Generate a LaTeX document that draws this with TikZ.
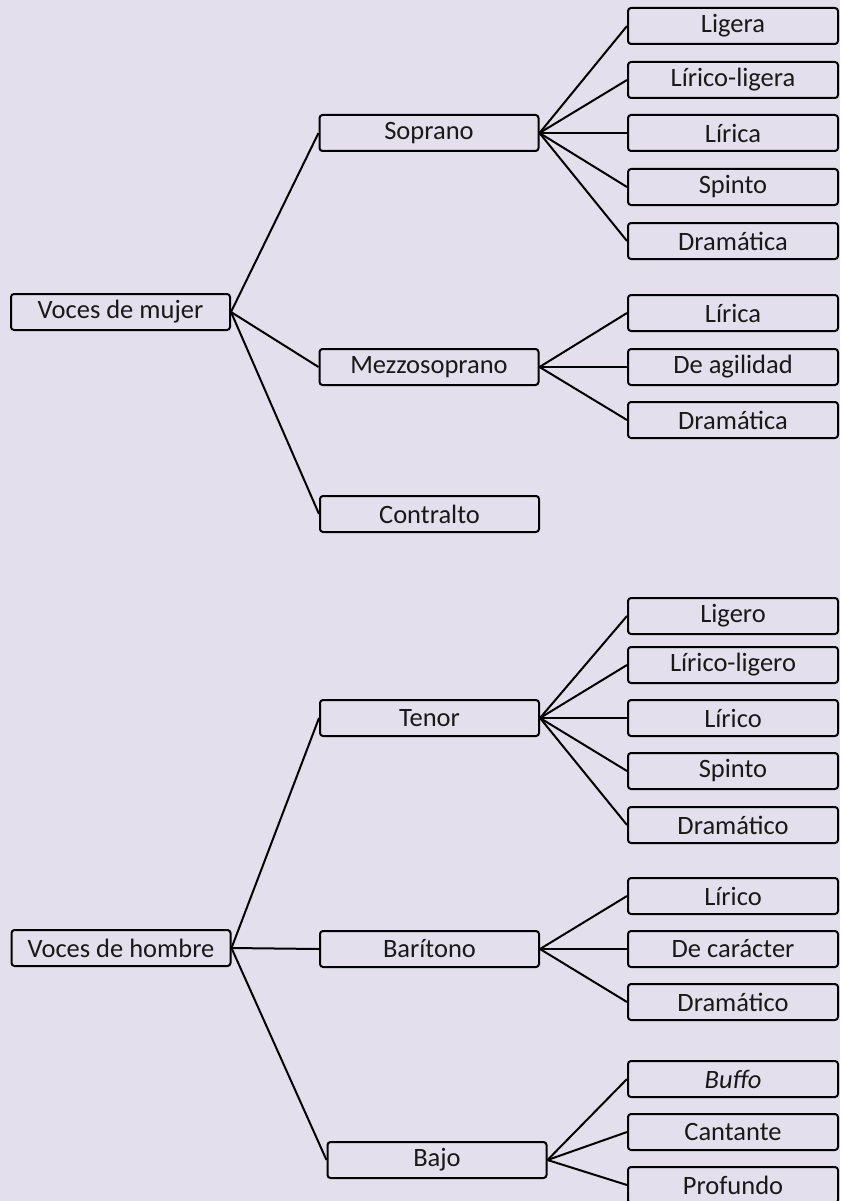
\documentclass[tikz,border=0pt]{standalone}
\usepackage{fontspec}
\setmainfont{Carlito}
\definecolor{bg}{HTML}{E4DFEC}
\begin{document}
\begin{tikzpicture}[x=1pt,y=-1pt,
  box/.style={draw=black, line width=2pt, rounded corners=3pt, fill=bg,
    minimum height=36pt, inner sep=0pt, font=\fontsize{26.5}{28}\selectfont, text=black!90},
  lbox/.style={box, minimum width=219pt},
  rbox/.style={box, minimum width=210pt},
  link/.style={line width=2pt, black}]
\clip (0,0) rectangle (840,1201);
\fill[bg] (0,0) rectangle (840,1201);
% women
\node[lbox] (vm) at (120.5,312) {Voces de mujer};
\node[lbox] (sop) at (429,133) {Soprano};
\node[lbox] (mez) at (429,367) {Mezzosoprano};
\node[lbox] (con) at (429.5,514) {Contralto};
\node[rbox] (s1) at (733,26) {Ligera};
\node[rbox] (s2) at (733,80) {Lírico-ligera};
\node[rbox] (s3) at (733,133) {Lírica};
\node[rbox] (s4) at (733,187) {Spinto};
\node[rbox] (s5) at (733,241) {Dramática};
\node[rbox] (m1) at (733,313) {Lírica};
\node[rbox] (m2) at (733,367) {De agilidad};
\node[rbox] (m3) at (733,420) {Dramática};
% men
\node[lbox] (vh) at (121,948) {Voces de hombre};
\node[lbox] (ten) at (429.5,718) {Tenor};
\node[lbox] (bar) at (429.5,949) {Barítono};
\node[lbox] (baj) at (437,1160) {Bajo};
\node[rbox] (t1) at (733,616) {Ligero};
\node[rbox] (t2) at (733,665) {Lírico-ligero};
\node[rbox] (t3) at (733,718) {Lírico};
\node[rbox] (t4) at (733,771) {Spinto};
\node[rbox] (t5) at (733,825) {Dramático};
\node[rbox] (b1) at (733,896) {Lírico};
\node[rbox] (b2) at (733,949) {De carácter};
\node[rbox] (b3) at (733,1002) {Dramático};
\node[rbox] (j1) at (733,1079) {\itshape Buffo};
\node[rbox] (j2) at (733,1132) {Cantante};
\node[rbox] (j3) at (733,1185) {Profundo};
% links
\foreach \a/\b in {vm/sop, vm/mez, vm/con, sop/s1, sop/s2, sop/s3, sop/s4, sop/s5,
  mez/m1, mez/m2, mez/m3, vh/ten, vh/bar, vh/baj, ten/t1, ten/t2, ten/t3, ten/t4, ten/t5,
  bar/b1, bar/b2, bar/b3, baj/j1, baj/j2, baj/j3}
  \draw[link] (\a.east) -- (\b.west);
\end{tikzpicture}
\end{document}
